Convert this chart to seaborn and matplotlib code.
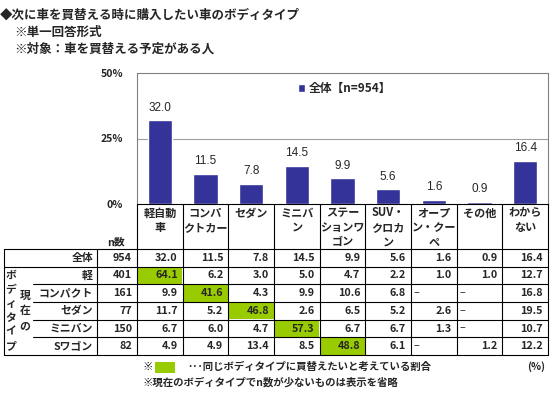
import numpy as np
import matplotlib
matplotlib.use("Agg")
import matplotlib.pyplot as plt
import seaborn as sns

# data
categories = ["軽自動車", "コンパクトカー", "セダン", "ミニバン", "ステーションワゴン",
              "SUV・クロカン", "オープン・クーペ", "その他", "わからない"]
header_lines = [["軽自動", "車"], ["コンパ", "クトカー"], ["セダン"], ["ミニバ", "ン"],
                ["ステー", "ションワ", "ゴン"], ["SUV・", "クロカ", "ン"],
                ["オープ", "ン・クー", "ペ"], ["その他"], ["わから", "ない"]]
overall = [32.0, 11.5, 7.8, 14.5, 9.9, 5.6, 1.6, 0.9, 16.4]
overall_n = 954
current_types = ["軽", "コンパクト", "セダン", "ミニバン", "Sワゴン"]
current_n = [401, 161, 77, 150, 82]
nan = None
by_type = [
    [64.1, 6.2, 3.0, 5.0, 4.7, 2.2, 1.0, 1.0, 12.7],
    [9.9, 41.6, 4.3, 9.9, 10.6, 6.8, nan, nan, 16.8],
    [11.7, 5.2, 46.8, 2.6, 6.5, 5.2, 2.6, nan, 19.5],
    [6.7, 6.0, 4.7, 57.3, 6.7, 6.7, 1.3, nan, 10.7],
    [4.9, 4.9, 13.4, 8.5, 48.8, 6.1, nan, 1.2, 12.2],
]
same_col = [0, 1, 2, 3, 4]  # column matching the current body type
yticks = [0, 25, 50]

BAR = "#333399"
GREEN = "#99CC00"

sns.set_style("white")
plt.rcParams["font.family"] = ["Noto Sans CJK JP", "DejaVu Sans"]

W, H = 550, 395
fig = plt.figure(figsize=(W / 100, H / 100), dpi=100)

# pixel layout
x0, x1 = 137, 548
y_top, y_zero = 73, 204


def fx(px):
    return px / W


def fy(py):
    return 1 - py / H


ax = fig.add_axes([fx(x0), fy(y_zero), fx(x1) - fx(x0), fy(y_top) - fy(y_zero)])
sns.barplot(x=categories, y=overall, color=BAR, saturation=1, width=0.53,
            ax=ax, label="全体【n=954】")
ax.set_xlim(-0.5, len(categories) - 0.5)
ax.set_ylim(0, 50)
ax.set_yticks(yticks)
ax.set_yticklabels([f"{t}%" for t in yticks], fontsize=7.5, fontweight="bold")
ax.tick_params(axis="y", length=0, pad=10)
ax.set_xticks([])
ax.set_xlabel("")
ax.axhline(25, color="#a0a0a0", lw=0.8, zorder=0)
for s in ["left", "top", "right"]:
    ax.spines[s].set_color("#808080")
    ax.spines[s].set_linewidth(0.8)
ax.spines["bottom"].set_color("black")
ax.spines["bottom"].set_linewidth(0.8)
for i, v in enumerate(overall):
    ax.text(i, v + 2.5, f"{v:.1f}", ha="center", va="bottom", fontsize=8.5,
            family=["Liberation Sans"])
ax.legend(loc="center", bbox_to_anchor=(0.505, 0.88), frameon=False,
          handlelength=0.6, handleheight=0.6, handletextpad=0.3,
          prop={"size": 8.5, "weight": "bold"})

# overlay in pixel coordinates for titles and the table
lay = fig.add_axes([0, 0, 1, 1])
lay.set_xlim(0, W)
lay.set_ylim(H, 0)
lay.axis("off")

lay.text(0, 15, "◆次に車を買替える時に購入したい車のボディタイプ", fontsize=9,
         fontweight="bold", va="center", ha="left")
lay.text(14, 32, "※単一回答形式", fontsize=9, fontweight="bold", va="center")
lay.text(14, 49, "※対象：車を買替える予定がある人", fontsize=9, fontweight="bold", va="center")

col_edges = np.linspace(x0, x1, len(categories) + 1)
col_mid = (col_edges[:-1] + col_edges[1:]) / 2
row_edges = np.linspace(249, 355, len(current_types) + 2)
row_mid = (row_edges[:-1] + row_edges[1:]) / 2
lw = 0.8
tfs = 7.8

# header
for i, lines in enumerate(header_lines):
    for k, line in enumerate(lines):
        lay.text(col_mid[i], 213 + 14.5 * k, line, ha="center", va="center",
                 fontsize=8, fontweight="bold")
lay.text(116, 242, "n数", ha="center", va="center", fontsize=tfs, fontweight="bold")
for x in col_edges:
    lay.plot([x, x], [y_zero, row_edges[-1]], color="black", lw=lw)

# grid lines
lay.plot([4, x1], [row_edges[0]] * 2, color="black", lw=lw)
lay.plot([4, x1], [row_edges[1]] * 2, color="black", lw=lw)
for y in row_edges[2:-1]:
    lay.plot([33, x1], [y, y], color="black", lw=lw)
lay.plot([4, x1], [row_edges[-1]] * 2, color="black", lw=lw)
for x in [4, 97]:
    lay.plot([x, x], [row_edges[0], row_edges[-1]], color="black", lw=lw)

# green highlight cells
for r, c in enumerate(same_col):
    lay.add_patch(plt.Rectangle((col_edges[c] + 0.5, row_edges[r + 1] + 0.5),
                                col_edges[c + 1] - col_edges[c] - 1,
                                row_edges[r + 2] - row_edges[r + 1] - 1,
                                color=GREEN, lw=0, zorder=0))


def put_row(y, label, n, vals):
    lay.text(93, y, label, ha="right", va="center", fontsize=tfs, fontweight="bold")
    lay.text(x0 - 5, y, f"{n}", ha="right", va="center", fontsize=tfs, fontweight="bold")
    for i, v in enumerate(vals):
        if v is None:
            lay.text(col_edges[i] + 3, y, "–", ha="left", va="center", fontsize=tfs)
        else:
            lay.text(col_edges[i + 1] - 5, y, f"{v:.1f}", ha="right", va="center",
                     fontsize=tfs, fontweight="bold")


put_row(row_mid[0], "全体", overall_n, overall)
for r, t in enumerate(current_types):
    put_row(row_mid[r + 1], t, current_n[r], by_type[r])

for k, ch in enumerate("ボディタイプ"):
    lay.text(11, 276 + 14 * k, ch, ha="center", va="center", fontsize=tfs, fontweight="bold")
for k, ch in enumerate("現在の"):
    lay.text(25, 296 + 15 * k, ch, ha="center", va="center", fontsize=tfs, fontweight="bold")

# footnotes
lay.text(142, 367, "※", ha="left", va="center", fontsize=7.5, fontweight="bold")
lay.add_patch(plt.Rectangle((155, 362), 20, 11, color=GREEN, lw=0))
lay.text(187, 367, "･･･同じボディタイプに買替えたいと考えている割合", ha="left",
         va="center", fontsize=7.5, fontweight="bold")
lay.text(142, 382, "※現在のボディタイプでn数が少ないものは表示を省略", ha="left",
         va="center", fontsize=7.5, fontweight="bold")
lay.text(545, 367, "(%)", ha="right", va="center", fontsize=7.5, fontweight="bold")

fig.savefig("out.png", dpi=100)
